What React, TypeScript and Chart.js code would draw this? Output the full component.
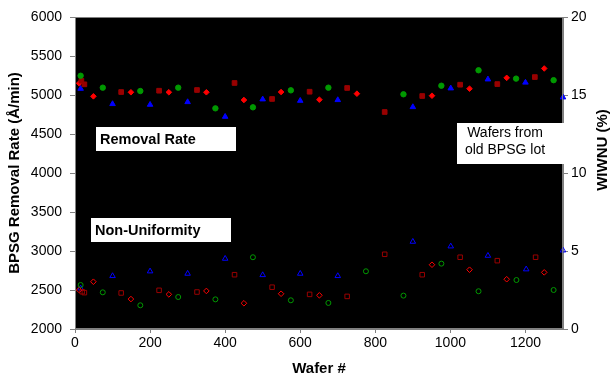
import React, { useEffect, useRef } from 'react';
import { Chart, registerables } from 'chart.js';

Chart.register(...registerables);

// ---- Removal rate (left axis, Å/min), filled markers ----
const rrRedWafers = [11, 49, 149, 250, 350, 450, 549, 651, 751, 951, 1051, 1150, 1250];
const rrRedValues = [5150, 4983, 5035, 5035, 5035, 4936, 5038, 4940, 5017, 4991, 5081, 5220, 5340];
const rrGreenWafers = [15, 74, 174, 275, 374, 474, 575, 675, 875, 976, 1075, 1175, 1275];
const rrGreenValues = [5247, 5094, 5051, 5094, 4829, 4842, 5060, 5094, 5009, 5119, 5317, 5210, 5190];
const rrBlueWafers = [15, 100, 200, 300, 400, 500, 600, 700, 900, 1001, 1100, 1200, 1300];
const rrBlueValues = [5081, 4885, 4876, 4910, 4722, 4945, 4927, 4936, 4846, 5086, 5201, 5160, 4970];
const rrDarkWafers = [17, 25, 123, 224, 325, 425, 525, 625, 725, 825, 925, 1026, 1125, 1225];
const rrDarkValues = [5183, 5137, 5038, 5055, 5064, 5154, 4949, 5042, 5090, 4782, 4987, 5132, 5140, 5230];

// ---- Non-uniformity (right axis, %), hollow markers ----
const nuRedWafers = [11, 49, 149, 250, 350, 450, 549, 651, 951, 1051, 1150, 1250];
const nuRedValues = [2.5, 3.03, 1.92, 2.22, 2.44, 1.65, 2.26, 2.16, 4.12, 3.8, 3.19, 3.63];
const nuGreenWafers = [15, 74, 174, 275, 374, 474, 575, 675, 775, 875, 976, 1075, 1176, 1275];
const nuGreenValues = [2.82, 2.35, 1.52, 2.05, 1.9, 4.6, 1.84, 1.67, 3.7, 2.14, 4.19, 2.42, 3.14, 2.5];
const nuBlueWafers = [15, 100, 200, 300, 400, 500, 600, 700, 900, 1001, 1100, 1202, 1300];
const nuBlueValues = [2.61, 3.4, 3.7, 3.55, 4.51, 3.46, 3.55, 3.4, 5.6, 5.3, 4.7, 3.83, 5.04];
const nuDarkWafers = [19, 25, 123, 224, 325, 425, 525, 625, 725, 825, 925, 1026, 1125, 1227];
const nuDarkValues = [2.39, 2.33, 2.31, 2.48, 2.37, 3.48, 2.68, 2.22, 2.09, 4.79, 3.48, 4.6, 4.38, 4.6];

// ---- Axes ----
const xMin = 0;
const xMax = 1300;
const xStep = 200;
const leftMin = 2000;
const leftMax = 6000;
const leftStep = 500;
const rightMin = 0;
const rightMax = 20;
const rightStep = 5;

const xTitle = 'Wafer #';
const leftTitle = 'BPSG Removal Rate (Å/min)';
const rightTitle = 'WIWNU (%)';
const labelRemoval = 'Removal Rate';
const labelNonUni = 'Non-Uniformity';
const labelOldLot = ['Wafers from', 'old BPSG lot'];

const FONT = "'Liberation Sans', Arial, sans-serif";
const RED = '#FF0000';
const GREEN = '#009900';
const BLUE = '#0000FF';
const DARK = '#990000';
const AXIS = '#808080';

const pts = (xs: number[], ys: number[]) => xs.map((x, i) => ({ x, y: ys[i] }));
const plain = (v: any) => String(v);

const decorPlugin = {
  id: 'decor',
  beforeDraw(chart: any) {
    const { ctx, chartArea: a } = chart;
    ctx.save();
    ctx.fillStyle = '#FFFFFF';
    ctx.fillRect(0, 0, chart.width, chart.height);
    ctx.fillStyle = '#000000';
    ctx.fillRect(a.left, a.top, a.right - a.left, a.bottom - a.top);
    ctx.restore();
  },
  afterDraw(chart: any) {
    const { ctx, chartArea: a } = chart;
    ctx.save();
    ctx.strokeStyle = AXIS;
    ctx.lineWidth = 1;
    ctx.strokeRect(a.left + 0.5, a.top + 0.5, a.right - a.left - 1, a.bottom - a.top - 1);

    const box = (x: number, y: number, w: number, h: number) => {
      ctx.fillStyle = '#FFFFFF';
      ctx.fillRect(x, y, w, h);
    };
    ctx.textBaseline = 'middle';
    box(96, 127, 140, 24);
    ctx.fillStyle = '#000000';
    ctx.font = `bold 14.5px ${FONT}`;
    ctx.textAlign = 'left';
    ctx.fillText(labelRemoval, 100, 139.5);

    box(91, 218, 140, 24);
    ctx.fillStyle = '#000000';
    ctx.fillText(labelNonUni, 95, 230.5);

    box(457, 123, 107, 41);
    ctx.fillStyle = '#000000';
    ctx.font = `14px ${FONT}`;
    ctx.textAlign = 'center';
    ctx.fillText(labelOldLot[0], 505, 133);
    ctx.fillText(labelOldLot[1], 505, 150);

    // right axis title, reading bottom-to-top
    ctx.translate(603, 150);
    ctx.rotate(-Math.PI / 2);
    ctx.font = `bold 15px ${FONT}`;
    ctx.textAlign = 'center';
    ctx.fillText(rightTitle, 0, 0);
    ctx.restore();
  },
};

export default function App() {
  const ref = useRef<HTMLCanvasElement | null>(null);
  useEffect(() => {
    document.body.style.margin = '0';
    const canvas = ref.current;
    if (!canvas) return;
    const filled = (label: string, xs: number[], ys: number[], color: string, style: string, r: number) => ({
      label,
      data: pts(xs, ys),
      yAxisID: 'y',
      pointStyle: style,
      pointRadius: r,
      backgroundColor: color,
      borderColor: color,
      borderWidth: 1,
      showLine: false,
      clip: false,
    });
    const hollow = (label: string, xs: number[], ys: number[], color: string, style: string, r: number) => ({
      label,
      data: pts(xs, ys),
      yAxisID: 'y2',
      pointStyle: style,
      pointRadius: r,
      backgroundColor: 'rgba(0,0,0,0)',
      borderColor: color,
      borderWidth: 1,
      showLine: false,
      clip: false,
    });
    const chart = new Chart(canvas, {
      type: 'scatter',
      data: {
        datasets: [
          filled('RR green', rrGreenWafers, rrGreenValues, GREEN, 'circle', 2.7),
          filled('RR dark red', rrDarkWafers, rrDarkValues, DARK, 'rect', 3.3),
          filled('RR red', rrRedWafers, rrRedValues, RED, 'rectRot', 2.8),
          filled('RR blue', rrBlueWafers, rrBlueValues, BLUE, 'triangle', 3.2),
          hollow('NU green', nuGreenWafers, nuGreenValues, GREEN, 'circle', 2.5),
          hollow('NU dark red', nuDarkWafers, nuDarkValues, DARK, 'rect', 3.2),
          hollow('NU red', nuRedWafers, nuRedValues, RED, 'rectRot', 2.8),
          hollow('NU blue', nuBlueWafers, nuBlueValues, BLUE, 'triangle', 3.2),
        ],
      },
      options: {
        responsive: false,
        animation: false,
        devicePixelRatio: 1,
        layout: { padding: { top: 17, left: 0, right: 0, bottom: 0 } },
        plugins: {
          legend: { display: false },
          tooltip: { enabled: false },
        },
        scales: {
          x: {
            type: 'linear',
            min: xMin,
            max: xMax,
            ticks: {
              stepSize: xStep,
              includeBounds: false,
              color: '#000000',
              font: { family: FONT, size: 14 },
              padding: 2,
              callback: plain,
            },
            grid: { display: true, drawOnChartArea: false, color: AXIS, tickLength: 4 },
            border: { color: AXIS },
            title: {
              display: true,
              text: xTitle,
              color: '#000000',
              font: { family: FONT, size: 15, weight: 'bold' },
              padding: { top: 0, bottom: 8 },
            },
            afterFit: (s: any) => {
              s.height = 57;
            },
          },
          y: {
            type: 'linear',
            position: 'left',
            min: leftMin,
            max: leftMax,
            ticks: {
              stepSize: leftStep,
              color: '#000000',
              font: { family: FONT, size: 14 },
              padding: 8,
              callback: plain,
            },
            grid: { display: true, drawOnChartArea: false, color: AXIS, tickLength: 5 },
            border: { color: AXIS },
            title: {
              display: true,
              text: leftTitle,
              color: '#000000',
              font: { family: FONT, size: 15, weight: 'bold' },
              padding: { top: 6, bottom: 0 },
            },
            afterFit: (s: any) => {
              s.width = 75;
            },
          },
          y2: {
            type: 'linear',
            position: 'right',
            min: rightMin,
            max: rightMax,
            ticks: {
              stepSize: rightStep,
              color: '#000000',
              font: { family: FONT, size: 14 },
              padding: 3,
              callback: plain,
            },
            grid: { display: true, drawOnChartArea: false, color: AXIS, tickLength: 5 },
            border: { color: AXIS },
            afterFit: (s: any) => {
              s.width = 50;
            },
          },
        },
      },
      plugins: [decorPlugin],
    } as any);
    return () => chart.destroy();
  }, []);
  return <canvas ref={ref} width={613} height={386} style={{ display: 'block' }} />;
}
